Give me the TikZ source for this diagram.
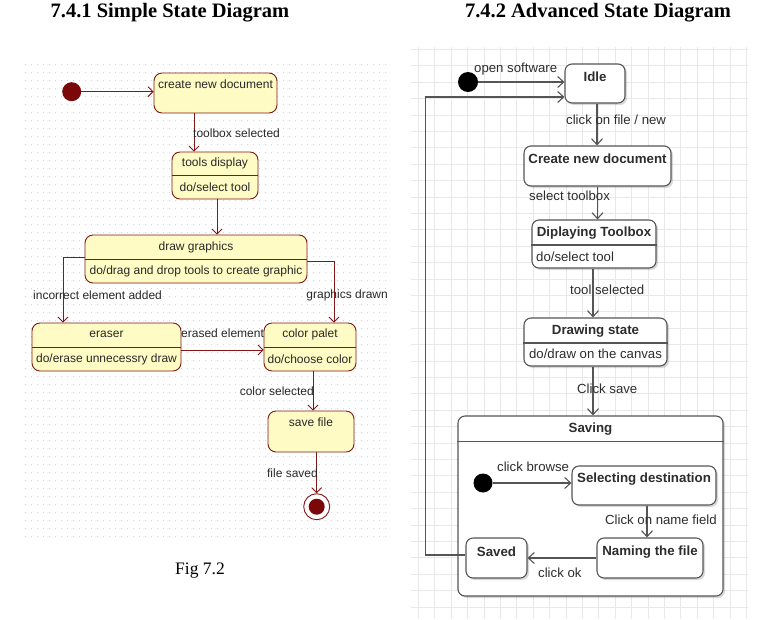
\documentclass[tikz,border=0pt]{standalone}
\usepackage{fontspec}
\setmainfont{Liberation Serif}
\newfontfamily\lsans{Liberation Sans}
\usetikzlibrary{arrows.meta,shadows,calc}
\definecolor{lfill}{RGB}{255,251,196}
\definecolor{lline}{RGB}{128,24,24}
\definecolor{ldot}{RGB}{122,8,8}
\definecolor{ltext}{RGB}{40,40,40}
\definecolor{rline}{RGB}{85,85,85}
\definecolor{rtext}{RGB}{45,45,45}
\definecolor{rgrid}{RGB}{232,232,232}
\definecolor{dotc}{RGB}{212,212,212}
\begin{document}
\begin{tikzpicture}[x=1pt,y=-1pt,
 lbox/.style={draw=lline, fill=lfill, rounded corners=8pt, line width=0.9pt, inner sep=0pt},
 ltxt/.style={font=\lsans\fontsize{12}{13}\selectfont, text=ltext, inner sep=0pt},
 ldiv/.style={draw=lline, line width=0.9pt},
 larr/.style={draw=lline, line width=0.9pt, -{Straight Barb[length=5pt,width=10pt]}},
 rbox/.style={draw=rline, fill=white, rounded corners=7pt, line width=1.1pt, inner sep=0pt,
   drop shadow={shadow xshift=2pt, shadow yshift=-2pt, opacity=0.15, fill=black}},
 rtxt/.style={font=\lsans\fontsize{13.2}{14}\selectfont, text=rtext, inner sep=0pt},
 rbold/.style={font=\lsans\bfseries\fontsize{13.3}{15}\selectfont, text=rtext, inner sep=0pt},
 rdiv/.style={draw=rline, line width=1.1pt},
 rarr/.style={draw=rline, line width=1.1pt, -{Straight Barb[length=6pt,width=11pt]}},
 ttl/.style={font=\bfseries\fontsize{20.5}{23}\selectfont, inner sep=0pt}
]
\useasboundingbox (0,0) rectangle (767,619);
\fill[white] (0,0) rectangle (767,619);

% titles
\node[ttl] (t1) at (170,13) {7.4.1 Simple State Diagram};
\node[ttl] (t2) at (598,13) {7.4.2 Advanced State Diagram};

% ---------------- left background dots
\foreach \yy in {64,72,...,536}
  \draw[dotc, line width=1pt, dash pattern=on 1pt off 5pt] (25,\yy) -- (390,\yy);

% ---------------- left diagram
\node[circle, fill=ldot, minimum size=19pt, inner sep=0pt] (linit) at (71.7,91.7) {};
\node[lbox, minimum width=123pt, minimum height=40pt] (create) at (215.5,93) {};
\node[ltxt] at (215.5,84) {create new document};

\node[lbox, minimum width=86pt, minimum height=47pt] (tools) at (215,175.5) {};
\draw[ldiv] (tools.west) -- (tools.east);
\node[ltxt] at (215,163) {tools display};
\node[ltxt] at (215,187) {do/select tool};

\node[lbox, minimum width=222pt, minimum height=48pt] (drawg) at (196,259) {};
\draw[ldiv] (drawg.west) -- (drawg.east);
\node[ltxt] at (196,247) {draw graphics};
\node[ltxt] at (196,271) {do/drag and drop tools to create graphic};

\node[lbox, minimum width=149pt, minimum height=48pt] (eraser) at (106.5,347) {};
\draw[ldiv] (eraser.west) -- (eraser.east);
\node[ltxt] at (106.5,334) {eraser};
\node[ltxt] at (106.5,359) {do/erase unnecessry draw};

\node[lbox, minimum width=92pt, minimum height=48pt] (palet) at (310,347) {};
\draw[ldiv] (palet.west) -- (palet.east);
\node[ltxt] at (310,334) {color palet};
\node[ltxt] at (310,359) {do/choose color};

\node[lbox, minimum width=86pt, minimum height=41pt] (save) at (311,431.5) {};
\node[ltxt] at (311,422) {save file};

\node[circle, draw=lline, fill=white, line width=0.9pt, minimum size=26pt, inner sep=0pt] (final) at (316.7,506.7) {};
\fill[ldot] (final.center) circle (8);

% left connectors
\draw[larr] (linit.east) -- (linit.east -| create.west);
\draw[larr] ([xshift=-21.5pt]create.south) -- ([xshift=-21.5pt]create.south |- tools.north);
\draw[larr] ([xshift=2pt]tools.south) -- ([xshift=2pt]tools.south |- drawg.north);
\draw[larr] ([yshift=2pt]drawg.west) -| ([xshift=-43.5pt]eraser.north);
\draw[larr] ([yshift=-2pt]drawg.east) -| ([xshift=24pt]palet.north);
\draw[larr] ([yshift=-3pt]eraser.east) -- ([yshift=-3pt]eraser.east -| palet.west);
\draw[larr] ([xshift=3pt]palet.south) -- ([xshift=3pt]palet.south |- save.north);
\draw[larr] (final.north |- save.south) -- (final.north);

% left labels
\node[ltxt, anchor=west] at (193,133) {toolbox selected};
\node[ltxt, anchor=west] at (33,295) {incorrect element added};
\node[ltxt, anchor=east] at (388,295) {graphics drawn};
\node[ltxt, anchor=west] at (181,333) {erased element};
\node[ltxt, anchor=east] at (314,391) {color selected};
\node[ltxt, anchor=east] at (318,473) {file saved};

\node[font=\fontsize{17.5}{20}\selectfont, inner sep=0pt] (fig) at (200,571) {Fig 7.2};

% ---------------- right grid
\foreach \i in {0,...,20}
  \draw[rgrid, line width=0.6pt] ({418.3+\i*16.4},47) -- ({418.3+\i*16.4},619);
\foreach \j in {0,...,34}
  \draw[rgrid, line width=0.6pt] (411,{49.3+\j*16.4}) -- (748,{49.3+\j*16.4});

% ---------------- right diagram
\node[circle, fill=black, minimum size=20pt, inner sep=0pt] (rinit) at (468,82) {};

\node[rbox, minimum width=60pt, minimum height=39pt] (idle) at (595,83.5) {};
\node[rbold] at (595,77) {Idle};

\node[rbox, minimum width=147pt, minimum height=40pt] (create2) at (597.5,166) {};
\node[rbold] at (597.5,159) {Create new document};

\node[rbox, minimum width=124pt, minimum height=48pt] (toolbox) at (594,244) {};
\draw[rdiv] ([yshift=-1pt]toolbox.west) -- ([yshift=-1pt]toolbox.east);
\node[rbold] at (594,233) {Diplaying Toolbox};
\node[rtxt, anchor=west] at (536,257) {do/select tool};

\node[rbox, minimum width=143pt, minimum height=48pt] (drawing) at (595.5,342) {};
\draw[rdiv] ([yshift=-1pt]drawing.west) -- ([yshift=-1pt]drawing.east);
\node[rbold] at (595.5,331) {Drawing state};
\node[rtxt] at (595.5,354) {do/draw on the canvas};

\node[rbox, minimum width=265pt, minimum height=180pt] (saving) at (590.5,506) {};
\draw[rdiv] ([yshift=-26pt]saving.north west) -- ([yshift=-26pt]saving.north east);
\node[rbold] at (590.5,429) {Saving};

\node[circle, fill=black, minimum size=19pt, inner sep=0pt] (rinit2) at (483,483) {};

\node[rbox, minimum width=144pt, minimum height=39pt] (selecting) at (644,485.5) {};
\node[rbold] at (644,479) {Selecting destination};

\node[rbox, minimum width=106pt, minimum height=40pt] (naming) at (650,558) {};
\node[rbold] at (650,552) {Naming the file};

\node[rbox, minimum width=61pt, minimum height=40pt] (saved) at (496.5,558) {};
\node[rbold] at (496.5,552) {Saved};

% right connectors
\draw[rarr] (rinit.east) -- (rinit.east -| idle.west);
\draw[rarr] ([yshift=3pt]saved.west) -- ++(-40,0) |- ([yshift=-13.5pt]idle.west);
\draw[rarr] ([xshift=2pt]idle.south) -- ([xshift=2pt]idle.south |- create2.north);
\draw[rarr] (create2.south) -- (create2.south |- toolbox.north);
\draw[rarr] ([xshift=-1pt]toolbox.south) -- ([xshift=-1pt]toolbox.south |- drawing.north);
\draw[rarr] ([xshift=-2.5pt]drawing.south) -- ([xshift=-2.5pt]drawing.south |- saving.north);
\draw[rarr] (rinit2.east) -- (rinit2.east -| selecting.west);
\draw[rarr] ([xshift=3pt]selecting.south) -- ([xshift=3pt]selecting.south |- naming.north);
\draw[rarr] (naming.west) -- (saved.east);

% right labels
\node[rtxt, anchor=west] at (474,69) {open software};
\node[rtxt, anchor=west] at (566,120) {click on file / new};
\node[rtxt, anchor=west] at (529,196) {select toolbox};
\node[rtxt, anchor=west] at (570,290) {tool selected};
\node[rtxt, anchor=west] at (577,389) {Click save};
\node[rtxt, anchor=west] at (497,467) {click browse};
\node[rtxt, anchor=west] at (605,520) {Click on name field};
\node[rtxt, anchor=west] at (538,573) {click ok};
\end{tikzpicture}
\end{document}
